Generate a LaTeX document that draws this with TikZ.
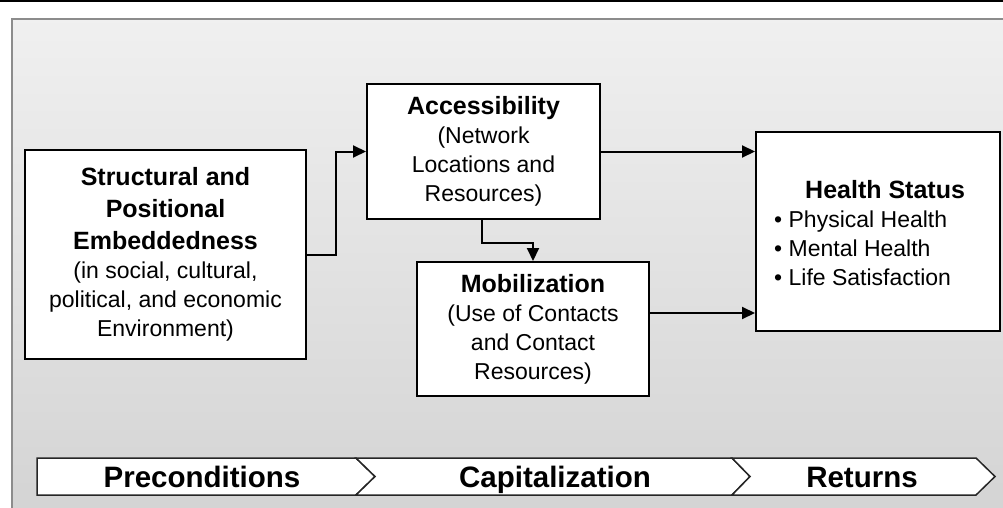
\documentclass[tikz,border=0pt]{standalone}
\usepackage{fontspec}
\setmainfont{Liberation Sans}
\usetikzlibrary{arrows.meta}
\newcommand\hd[1]{{\fontsize{25}{29}\selectfont\bfseries #1}}
\newcommand\bt[1]{{\fontsize{29.5}{32}\selectfont\bfseries #1}}
\begin{document}
\begin{tikzpicture}[x=1pt,y=-1pt,
  box/.style={draw=black,line width=2pt,fill=white,inner sep=0pt,align=center,
    font=\fontsize{23}{29}\selectfont},
  arr/.style={draw=black,line width=2pt,-{Triangle[length=13pt,width=12pt]}},
  chev/.style={draw=black!85,line width=1.5pt,fill=white,line join=miter},
  lbl/.style={inner sep=0pt,anchor=base}]
\useasboundingbox (0,0) rectangle (1003,508);
% top rule
\draw[line width=2pt,black] (0,1) -- (1003,1);
% panel
\shade[top color=black!6,bottom color=black!17] (12,19) rectangle (1010,515);
\draw[line width=1.2pt,black!45] (12,515) -- (12,19) -- (1010,19);
\draw[line width=1pt,white] (10.5,515) -- (10.5,17.5) -- (1010,17.5);
% boxes
\node[box,minimum width=281pt,minimum height=209pt] (struct) at (165.5,254.5)
  {\hd{Structural and}\\[3pt]\hd{Positional}\\[3pt]\hd{Embeddedness}\\(in social, cultural,\\political, and economic\\Environment)};
\node[box,minimum width=233pt,minimum height=134pt] (access) at (483.5,151.5)
  {\hd{Accessibility}\\(Network\\Locations and\\Resources)};
\node[box,minimum width=232pt,minimum height=134pt] (mobil) at (533,329)
  {\hd{Mobilization}\\(Use of Contacts\\and Contact\\Resources)};
\node[box,minimum width=244pt,minimum height=199pt] (health) at (878,231.5) {};
\node[inner sep=0pt,anchor=west,align=left,font=\fontsize{23}{29}\selectfont] (healthtxt) at (774,233)
  {\hspace*{31pt}\hd{Health Status}\\\textbullet\ Physical Health\\\textbullet\ Mental Health\\\textbullet\ Life Satisfaction};
% connectors
\draw[arr] (struct.east) -- ++(29,0) |- (access.west);
\draw[arr] ([xshift=-1.5pt]access.south) -- ++(0,23) -| (mobil.north);
\draw[arr] (access.east) -- (access.east -| health.west);
\draw[arr] ([yshift=16pt]mobil.east) -- ([yshift=16pt]mobil.east -| health.west);
% chevron band
\path[chev] (37,458) -- (356,458) -- (375,476.5) -- (356,495) -- (37,495) -- cycle;
\path[chev] (356,458) -- (732,458) -- (750,476.5) -- (732,495) -- (356,495) -- (375,476.5) -- cycle;
\path[chev] (732,458) -- (976,458) -- (995,476.5) -- (976,495) -- (732,495) -- (750,476.5) -- cycle;
\node[lbl] (pre) at (202,487.5) {\bt{Preconditions}};
\node[lbl] (cap) at (555,487.5) {\bt{Capitalization}};
\node[lbl] (ret) at (862,487.5) {\bt{Returns}};
\end{tikzpicture}
\end{document}
